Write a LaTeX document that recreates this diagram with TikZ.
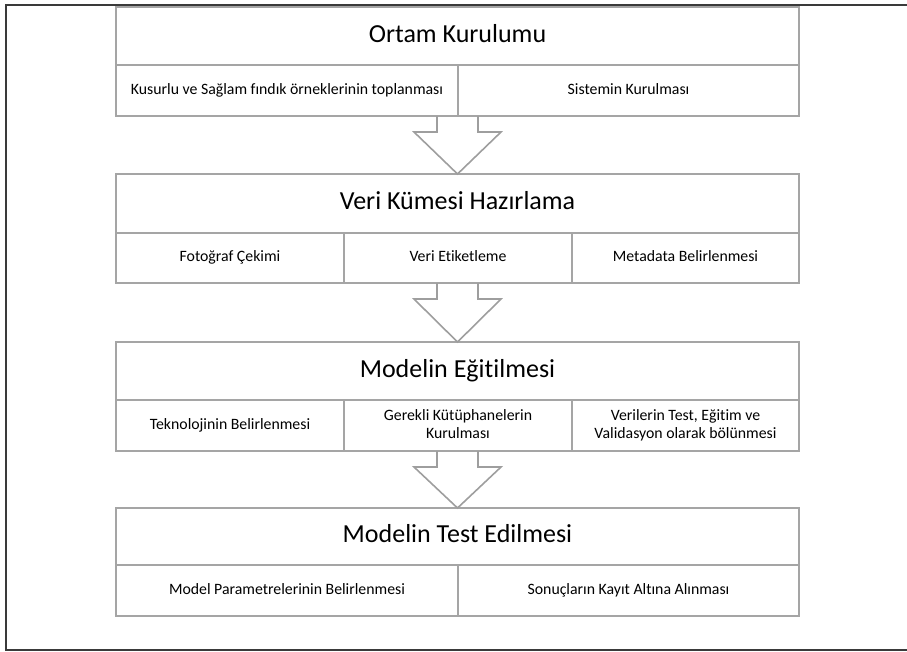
\documentclass[tikz,border=0pt]{standalone}
\usepackage{fontspec}
\setmainfont{Carlito}[Ligatures=NoCommon]
\usetikzlibrary{calc}
\definecolor{boxgrey}{HTML}{A5A5A5}
\definecolor{arrgrey}{HTML}{9E9E9E}
\definecolor{framec}{HTML}{3A3A3A}
\tikzset{
  cell/.style={draw=boxgrey, line width=2pt, rectangle, inner sep=0pt, outer sep=0pt,
    anchor=north west, align=center, fill=white},
  titlecell/.style={cell, minimum width=683pt, font=\fontsize{26}{30}\selectfont,
    text height=18pt, text depth=6pt},
  subcell/.style={cell, font=\fontsize{15.8}{18}\selectfont},
  blockarr/.style={draw=arrgrey, line width=1.6pt, line join=miter}
}
\begin{document}
\begin{tikzpicture}[x=1pt,y=-1pt]
\useasboundingbox (0,0) rectangle (907,651);
\draw[framec, line width=2pt] (907,5) -- (6,5) -- (6,650) -- (907,650);

% Box 1
\node[titlecell, minimum height=58pt] (t1) at (116,7) {Ortam Kurulumu};
\node[subcell, minimum width=342pt, minimum height=51pt] (s11) at (116,65) {\strut Kusurlu ve Sağlam fındık örneklerinin toplanması};
\node[subcell, minimum width=341pt, minimum height=51pt] (s12) at (458,65) {\strut Sistemin Kurulması};

% Box 2
\node[titlecell, minimum height=59pt] (t2) at (116,174) {Veri Kümesi Hazırlama};
\node[subcell, minimum width=228pt, minimum height=50pt] (s21) at (116,233) {\strut Fotoğraf Çekimi};
\node[subcell, minimum width=228pt, minimum height=50pt] (s22) at (344,233) {\strut Veri Etiketleme};
\node[subcell, minimum width=227pt, minimum height=50pt] (s23) at (572,233) {\strut Metadata Belirlenmesi};

% Box 3
\node[titlecell, minimum height=58pt] (t3) at (116,342) {Modelin Eğitilmesi};
\node[subcell, minimum width=228pt, minimum height=51pt] (s31) at (116,400) {\strut Teknolojinin Belirlenmesi};
\node[subcell, minimum width=228pt, minimum height=51pt] (s32) at (344,400) {\strut Gerekli Kütüphanelerin\\\strut Kurulması};
\node[subcell, minimum width=227pt, minimum height=51pt] (s33) at (572,400) {\strut Verilerin Test, Eğitim ve\\\strut Validasyon olarak bölünmesi};

% Box 4
\node[titlecell, minimum height=57pt] (t4) at (116,508) {Modelin Test Edilmesi};
\node[subcell, minimum width=342pt, minimum height=51pt] (s41) at (116,565) {\strut Model Parametrelerinin Belirlenmesi};
\node[subcell, minimum width=341pt, minimum height=51pt] (s42) at (458,565) {\strut Sonuçların Kayıt Altına Alınması};

% Arrows
\coordinate (a1) at (t1.center |- s11.south);
\coordinate (a2) at (t2.center |- s21.south);
\coordinate (a3) at (t3.center |- s31.south);
\foreach \a/\b in {a1/t2, a2/t3, a3/t4}{
  \draw[blockarr] ($(\a)+(-20.5,0)$) -- ($(\a)+(-20.5,16)$) -- ($(\a)+(-43.5,16)$)
    -- (\b.north) -- ($(\a)+(43.5,16)$) -- ($(\a)+(20.5,16)$) -- ($(\a)+(20.5,0)$);
}
\end{tikzpicture}
\end{document}
